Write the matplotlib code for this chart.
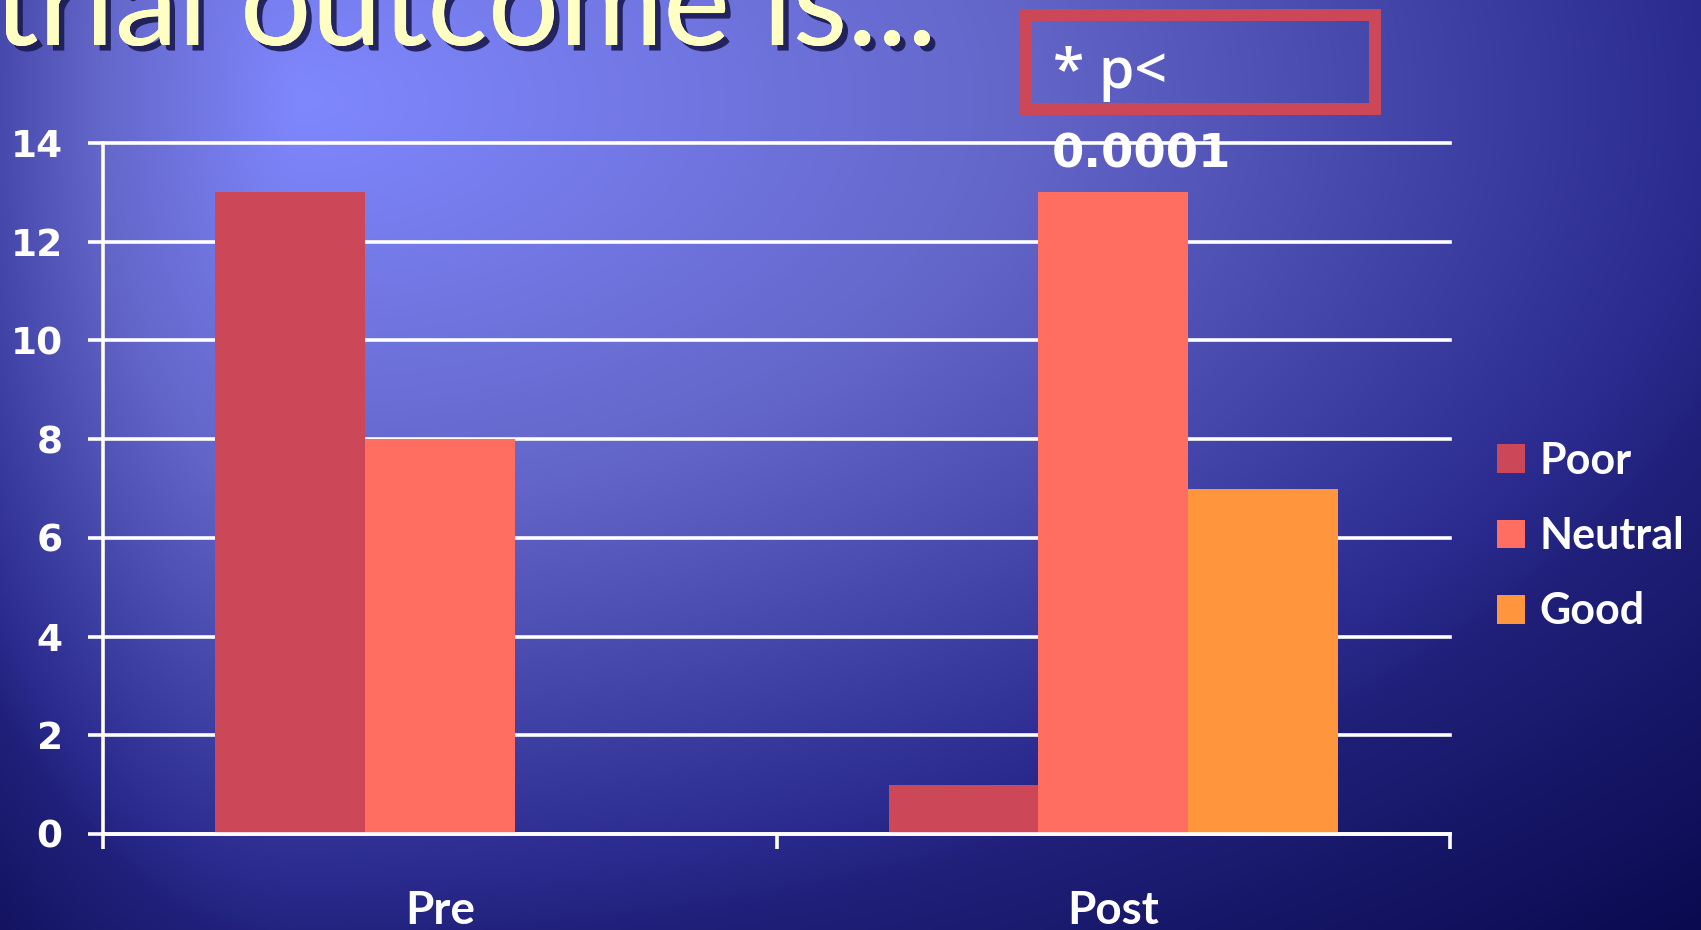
import numpy as np
import matplotlib
matplotlib.use("Agg")
import matplotlib.pyplot as plt
import matplotlib.patheffects as pe
from matplotlib.patches import Rectangle

# chart data
groups = ["Pre", "Post"]
outcomes = ["Poor", "Neutral", "Good"]
poor = [13, 1]
neutral = [8, 13]
good = [0, 7]
colors = ["#CC4858", "#FF6E60", "#FF953D"]

W, H = 1701, 930
fig = plt.figure(figsize=(W / 100, H / 100), dpi=100)

# slide background: off-centre radial gradient
bg = fig.add_axes([0, 0, 1, 1])
bg.set_axis_off()
yy, xx = np.mgrid[0:H:4, 0:W:4].astype(float)
dx = xx - 300
dx = np.where(dx < 0, dx * 3.5, dx)
dy = (yy - 100) * 1.8
r = np.hypot(dx, dy)
stops = [0, 725, 1412, 1524, 2047, 2600]
rgb_stops = np.array([[128, 136, 255], [99, 102, 200], [42, 42, 142],
                      [32, 32, 122], [10, 10, 80], [5, 5, 70]]) / 255
img = np.dstack([np.interp(r, stops, rgb_stops[:, k]) for k in range(3)])
bg.imshow(img, aspect="auto", extent=[0, 1, 0, 1], interpolation="bilinear")
bg.set_xlim(0, 1)
bg.set_ylim(0, 1)

# title, cut off by the top of the picture
fig.text(-0.004, 1 - 45 / H, "trial outcome is...", fontsize=91, family="Lato",
         color="#FFFFC4", va="baseline", ha="left",
         path_effects=[pe.withSimplePatchShadow(offset=(4, -4), shadow_rgbFace="#1a1a50", alpha=0.9),
                       pe.Normal()])

ax = fig.add_axes([103 / W, 1 - 834 / H, (1450 - 103) / W, (834 - 143) / H])
ax.set_facecolor("none")

x = np.arange(len(groups))
w = 0.222
series = [poor, neutral, good]
for i, (vals, name, c) in enumerate(zip(series, outcomes, colors)):
    ax.bar(x + (i - 1) * w, vals, width=w, color=c, label=name, zorder=2)

ax.set_xlim(-0.5, 1.5)
ax.set_ylim(0, 14)
ax.set_yticks(range(0, 15, 2))
ax.yaxis.grid(True, color="white", linewidth=2.6)
ax.set_axisbelow(True)
for gl in ax.get_ygridlines():
    gl.set_clip_on(False)

for side in ["top", "right"]:
    ax.spines[side].set_visible(False)
for side in ["left", "bottom"]:
    ax.spines[side].set_color("white")
    ax.spines[side].set_linewidth(2.6)

ax.set_xticks([-0.5, 0.5, 1.5])
ax.set_xticklabels([])
ax.set_xticks(x, minor=True)
ax.set_xticklabels(groups, minor=True, fontsize=33, family="Lato",
                   fontweight="bold", color="white")
ax.tick_params(axis="x", which="major", direction="out", length=11, width=2.6, color="white")
ax.tick_params(axis="x", which="minor", length=0, pad=40)
ax.tick_params(axis="y", direction="out", length=11, width=2.6, color="white",
               labelcolor="white", labelsize=27, pad=18)
for t in ax.get_yticklabels():
    t.set_fontweight("bold")
    t.set_family("DejaVu Sans")

leg = ax.legend(loc="center left", bbox_to_anchor=(1497 / W, 1 - 536 / H),
                bbox_transform=fig.transFigure, frameon=False,
                prop={"family": "Lato", "weight": "bold", "size": 31},
                labelcolor="white", handlelength=0.65, handleheight=0.65,
                handletextpad=0.33, labelspacing=0.82, borderpad=0, borderaxespad=0)

# significance box
fig.patches.append(Rectangle((1026 / W, 1 - 109 / H), (1375 - 1026) / W, (109 - 15) / H,
                             transform=fig.transFigure, fill=False,
                             edgecolor="#CC4858", linewidth=8.6, zorder=5))
fig.text(1053 / W, 1 - 88 / H, "* p<", fontsize=41, family="Open Sans",
         fontweight="semibold", color="white", va="baseline", ha="left", zorder=6)
fig.text(1052 / W, 1 - 167 / H, "0.0001", fontsize=33.5, family="DejaVu Sans",
         fontweight="bold", color="white", va="baseline", ha="left", zorder=6)

fig.savefig("out.png", dpi=100)
